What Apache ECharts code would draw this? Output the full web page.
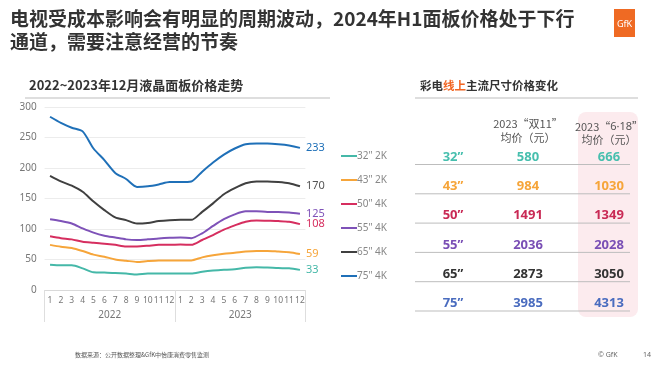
<!DOCTYPE html>
<html><head><meta charset="utf-8">
<script src="https://cdn.jsdelivr.net/npm/echarts@6/dist/echarts.min.js"></script>
<style>html,body{margin:0;padding:0;background:#fff}#c{width:660px;height:365px}</style>
</head><body><div id="c"></div>
<script>
// ---- data ----
const months = ['1','2','3','4','5','6','7','8','9','10','11','12','1','2','3','4','5','6','7','8','9','10','11','12'];
const years = ['2022','2023'];
const seriesNames = ['32" 2K','43" 2K','50" 4K','55" 4K','65" 4K','75" 4K'];
const p32 = [41.5,40.5,40.5,35.5,29,28.5,28,27,25.5,27,27,27,27,27,30,32,33,34,36.5,37.5,37,36,35.5,33];
const p43 = [74,71,69,64,58,54.5,50,48,46,47.5,48.5,48.5,48.5,48.5,53.5,57,59.5,61,63,64,64,63,62,59];
const p50 = [88,85,83,79,77.5,76,74,71.5,71.5,72.5,74,74,74.5,74,82,90,99,106,112,114,113.5,113,112,108];
const p55 = [116,113,109,101,94,89,86,83,82,83,84.5,85.5,86,85,93,105,116,124,129,129,128,128,127,125];
const p65 = [187,178,171,161,145,131,119,114.5,109,110,113,114.5,115,115,128,142,157,167,175,178,178,177,175,170];
const p75 = [284,274,266,260,232,213,192,182,169,170,173,177,177,178,194,209,222,232,239,240,240,239,237,233];
const tableSizes = ['32”','43”','50”','55”','65”','75”'];
const double11 = [580,984,1491,2036,2873,3985];
const sixEighteen = [666,1030,1349,2028,3050,4313];

// ---- styles ----
const lineColors = ['#45b8a8','#f6a53a','#d62e5f','#7e52b8','#404040','#1f70b8'];
const labelColors = ['#45b8a8','#f6a53a','#d62e5f','#7e52b8','#555555','#1f70b8'];
const tableColors = ['#47bfae','#f6a53a','#c92a55','#7a4fb5','#333333','#4a6cbf'];
const allSeries = [p32,p43,p50,p55,p65,p75];

const chart = echarts.init(document.getElementById('c'), null, {renderer:'canvas'});

const graphics = [];
graphics.push({type:'text', left:10, top:9, style:{text:'电视受成本影响会有明显的周期波动，2024年H1面板价格处于下行', font:'bold 19px "Noto Sans CJK SC"', fill:'#333'}});
graphics.push({type:'text', left:10, top:32, style:{text:'通道，需要注意经营的节奏', font:'bold 19px "Noto Sans CJK SC"', fill:'#333'}});
graphics.push({type:'rect', shape:{x:614,y:9,width:21,height:28}, style:{fill:'#ef6a23'}});
graphics.push({type:'text', x:624.5, y:24, style:{text:'GfK', font:'9px "Noto Sans"', fill:'#fff', align:'center', verticalAlign:'middle'}});
graphics.push({type:'text', left:29, top:79, style:{text:'2022~2023年12月液晶面板价格走势', font:'bold 13px "Noto Sans CJK SC"', fill:'#333'}});
graphics.push({type:'line', shape:{x1:25,y1:98,x2:330,y2:98}, style:{stroke:'#bdbdbd', lineWidth:1}});
graphics.push({type:'text', left:420, top:80, style:{text:'{a|彩电}{b|线上}{a|主流尺寸价格变化}', rich:{a:{font:'bold 11.5px "Noto Sans CJK SC"', fill:'#333'}, b:{font:'bold 11.5px "Noto Sans CJK SC"', fill:'#f26522'}}}});
graphics.push({type:'line', shape:{x1:415,y1:98,x2:638,y2:98}, style:{stroke:'#bdbdbd', lineWidth:1}});
graphics.push({type:'rect', shape:{x:578,y:112,width:60,height:205,r:8}, style:{fill:'#fcebee'}});
const hdrRich = {a:{font:'11px "Noto Sans CJK SC"', fill:'#555'}, b:{font:'11px "Noto Sans"', fill:'#555'}};
graphics.push({type:'text', x:528, y:124, style:{text:'{a|2023“双11”}', rich:hdrRich, align:'center', verticalAlign:'middle'}});
graphics.push({type:'text', x:528, y:137.5, style:{text:'{a|均价（元）}', rich:hdrRich, align:'center', verticalAlign:'middle'}});
graphics.push({type:'text', x:609, y:127, style:{text:'{a|2023“}{b|6·18}{a|”}', rich:hdrRich, align:'center', verticalAlign:'middle'}});
graphics.push({type:'text', x:609, y:140, style:{text:'{a|均价（元）}', rich:hdrRich, align:'center', verticalAlign:'middle'}});
tableSizes.forEach((s,i)=>{
  const y = 157 + i*29.3;
  const f = 'bold 13px "Noto Sans"';
  graphics.push({type:'text', x:453, y:y, style:{text:s, font:f, fill:tableColors[i], align:'center', verticalAlign:'middle'}});
  graphics.push({type:'text', x:528, y:y, style:{text:String(double11[i]), font:f, fill:tableColors[i], align:'center', verticalAlign:'middle'}});
  graphics.push({type:'text', x:609, y:y, style:{text:String(sixEighteen[i]), font:f, fill:tableColors[i], align:'center', verticalAlign:'middle'}});
  graphics.push({type:'line', shape:{x1:415,y1:y+7.5,x2:630,y2:y+7.5}, style:{stroke:'#bdbdbd', lineWidth:1}});
});
graphics.push({type:'text', left:75, top:352, style:{text:'数据来源：公开数据整理&GfK中怡康消费零售监测', font:'6px "Noto Sans CJK SC"', fill:'#555'}});
graphics.push({type:'text', left:598, top:351, style:{text:'© GfK', font:'7px "Noto Sans"', fill:'#666'}});
graphics.push({type:'text', left:643, top:351, style:{text:'14', font:'7px "Noto Sans"', fill:'#666'}});

const option = {
  animation:false,
  backgroundColor:'#fff',
  textStyle:{fontFamily:'"Noto Sans", "Noto Sans CJK SC", sans-serif'},
  grid:{left:44.6, right:354.6, top:107, bottom:75, containLabel:false},
  legend:{
    orient:'vertical', left:336, top:146, icon:'rect', itemWidth:16, itemHeight:2, itemGap:14,
    textStyle:{color:'#888', fontSize:10, padding:[0,0,0,-5]},
    data:seriesNames
  },
  xAxis:[
    {type:'category', data:months, boundaryGap:true,
     axisLine:{show:true, lineStyle:{color:'#d9d9d9'}}, axisTick:{show:false},
     axisLabel:{color:'#777', fontSize:8.5, margin:6, interval:0}},
    {type:'category', data:years, position:'bottom', boundaryGap:true,
     axisLine:{show:false}, axisTick:{show:true, length:32, lineStyle:{color:'#dedede'}},
     axisLabel:{color:'#777', fontSize:10, margin:20}, splitLine:{show:false}}
  ],
  yAxis:{type:'value', min:0, max:300, interval:50,
    axisLine:{show:false}, axisTick:{show:false},
    axisLabel:{color:'#777', fontSize:10, margin:8},
    splitLine:{lineStyle:{color:'#ececec'}}},
  series: allSeries.map((d,i)=>({
    name:seriesNames[i], type:'line', xAxisIndex:0, data:d, smooth:0.25,
    showSymbol:false, symbol:'none',
    lineStyle:{width:2, color:lineColors[i]}, itemStyle:{color:lineColors[i]},
    endLabel:{show:true, formatter:p=>String(p.value), color:labelColors[i], fontSize:11, distance:6}
  })),
  graphic:graphics
};
chart.setOption(option);
</script></body></html>
